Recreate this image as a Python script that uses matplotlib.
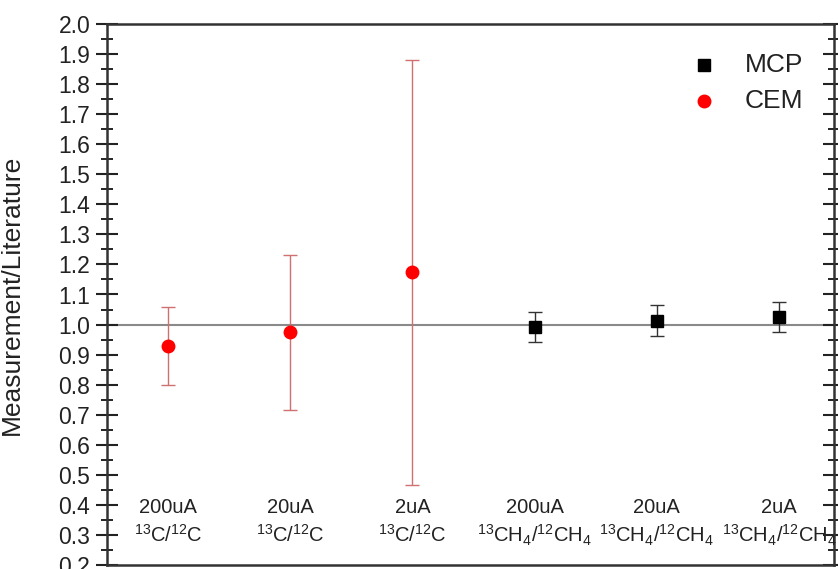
import numpy as np
import matplotlib
matplotlib.use("Agg")
import matplotlib.pyplot as plt
from matplotlib.ticker import MultipleLocator

plt.rcParams["font.family"] = ["Liberation Sans", "DejaVu Sans"]
plt.rcParams["mathtext.fontset"] = "custom"
plt.rcParams["mathtext.rm"] = "Liberation Sans"

# ── data ────────────────────────────────────────────────────────────────────
cem_x = [1, 2, 3]
cem_y = [0.93, 0.975, 1.175]
cem_lo = [0.80, 0.715, 0.465]
cem_hi = [1.06, 1.23, 1.88]

mcp_x = [4, 5, 6]
mcp_y = [0.992, 1.013, 1.024]
mcp_lo = [0.943, 0.962, 0.974]
mcp_hi = [1.041, 1.064, 1.076]

cat_x = [1, 2, 3, 4, 5, 6]
cat_current = ["200uA", "20uA", "2uA", "200uA", "20uA", "2uA"]
cat_ratio = [r"$\mathregular{^{13}C/^{12}C}$"] * 3 + [r"$\mathregular{^{13}CH_4/^{12}CH_4}$"] * 3

# ── plot ────────────────────────────────────────────────────────────────────
fig = plt.figure(figsize=(8.38, 5.69), dpi=100)
ax = fig.add_axes([107 / 838, 1 - 565 / 569, (834 - 107) / 838, (565 - 24) / 569])

ax.axhline(1.0, color="#8a8a8a", linewidth=1.5, zorder=1)

cem_err = [np.subtract(cem_y, cem_lo), np.subtract(cem_hi, cem_y)]
mcp_err = [np.subtract(mcp_y, mcp_lo), np.subtract(mcp_hi, mcp_y)]

ax.errorbar(mcp_x, mcp_y, yerr=mcp_err, fmt="s", color="black", ms=8,
            ecolor="#333333", elinewidth=1, capsize=5, capthick=1, zorder=3)
ax.errorbar(cem_x, cem_y, yerr=cem_err, fmt="o", color="red", ms=9,
            ecolor="#d07070", elinewidth=1, capsize=5, capthick=1, zorder=3)

for x, cur, rat in zip(cat_x, cat_current, cat_ratio):
    ax.text(x, 0.39, cur, ha="center", va="center", fontsize=14.5, color="#222222")
    ax.text(x, 0.30, rat, ha="center", va="center", fontsize=14.5, color="#222222")

# legend by hand (no frame)
ax.plot([5.39], [1.863], "s", color="black", ms=8)
ax.plot([5.39], [1.743], "o", color="red", ms=9)
ax.text(5.72, 1.863, "MCP", va="center", fontsize=19, color="#222222")
ax.text(5.72, 1.743, "CEM", va="center", fontsize=19, color="#222222")

ax.set_xlim(0.5, 6.45)
ax.set_ylim(0.2, 2.0)
ax.yaxis.set_major_locator(MultipleLocator(0.1))
ax.yaxis.set_minor_locator(MultipleLocator(0.05))
ax.set_xticks([])
ax.tick_params(axis="y", which="major", direction="inout", length=16, width=1.5,
               labelsize=16.5, pad=4, right=True, colors="#222222")
ax.tick_params(axis="y", which="minor", direction="inout", length=9, width=1.2, right=True)
ax.set_ylabel("Measurement/Literature", fontsize=19, color="#222222")
ax.yaxis.set_label_coords(-0.114, 0.5)

for s in ax.spines.values():
    s.set_linewidth(1.8)
    s.set_color("#333333")

plt.savefig("out.png", dpi=100)
